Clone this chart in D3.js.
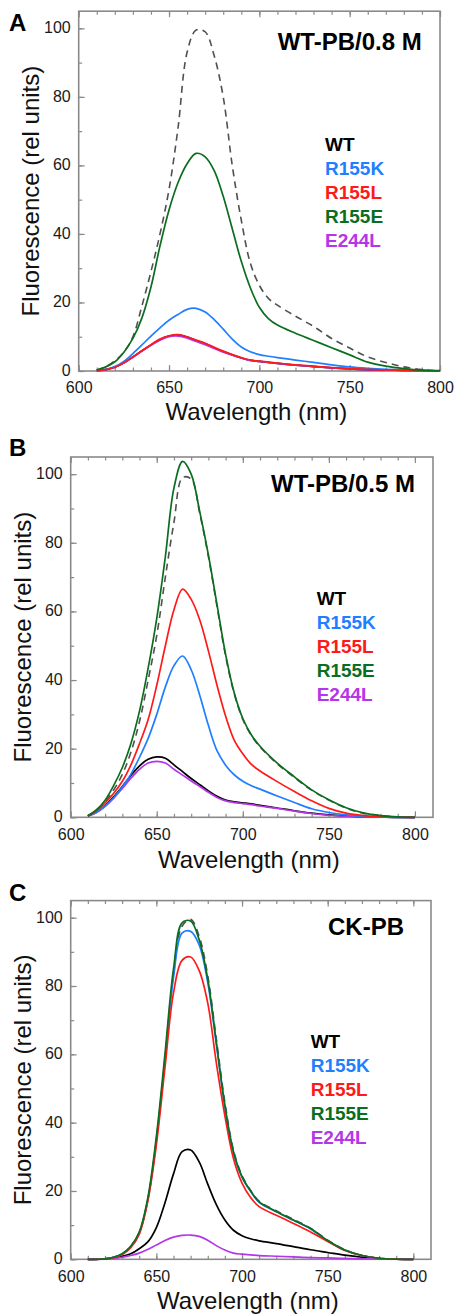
<!DOCTYPE html>
<html><head><meta charset="utf-8">
<script src="https://cdn.jsdelivr.net/npm/d3@7"></script>
<style>
html,body{margin:0;padding:0;background:#fff;}
svg{display:block;font-family:"Liberation Sans",Arial,Helvetica,sans-serif;}
</style></head>
<body>
<svg id="chart" width="456" height="1315"></svg>
<script>
// ---------- DATA ----------
const wavelengths = [610,615,620,625,630,635,640,645,650,655,660,665,670,675,680,685,690,695,700,705,710,720,730,740,750,760,770,780,790,800];
const seriesNames = ["WT","R155K","R155L","R155E","E244L"];
const xTickLabels = [600,650,700,750,800];
const yTickLabels = [0,20,40,60,80,100];
const panelLetters = ["A","B","C"];
const panelTitles = ["WT-PB/0.8 M","WT-PB/0.5 M","CK-PB"];

// Panel A
const aRef   = [0.3,1.2,3,5.5,10,19,29,40,53,71,93,99.5,99,92,80,60,44,31.5,25,21.2,19.2,16,13,9.5,6.7,4.1,2.5,1.2,0.4,0.1];
const aWT    = [0.1,0.4,1.1,2.4,4.1,5.9,7.6,9.2,10.2,10.5,9.9,8.9,8,6.8,5.7,4.7,3.8,3.1,2.8,2.5,2.2,1.7,1.3,0.9,0.6,0.4,0.3,0.2,0.1,0];
const aR155K = [0.1,0.5,1.3,2.8,5.1,7.6,10.2,12.6,14.8,16.5,18,18.3,17.2,15,12.2,9.3,7,5.6,4.8,4.3,3.9,3.2,2.5,1.8,1.2,0.8,0.5,0.3,0.1,0];
const aR155L = [0.1,0.4,1.1,2.4,4.1,5.9,7.7,9.3,10.3,10.6,10,9,8.1,6.9,5.8,4.8,3.9,3.2,2.9,2.6,2.3,1.8,1.4,1.0,0.7,0.5,0.3,0.2,0.1,0];
const aR155E = [0.3,1.2,2.7,5.5,9.5,15.5,24.5,36.5,47,55,60.5,63.5,62.5,58.5,51,41.5,32,24.3,18.6,15.3,13.4,11,8.9,6.8,4.7,2.6,1.4,0.7,0.25,0.1];
const aE244L = [0.1,0.4,1.1,2.3,4,5.8,7.5,9,10,10.2,9.6,8.6,7.7,6.6,5.5,4.6,3.8,3.1,2.8,2.5,2.2,1.7,1.3,0.9,0.6,0.4,0.3,0.2,0.1,0];

// Panel B
const bRef   = [0.4,2,4.5,8,12.5,19,28,40,53,70,86,99,98.6,88.5,76,61.5,47,36,28.5,23.8,20.5,15.6,11.6,7.9,5,2.7,1.2,0.5,0.1,0];
const bWT    = [0.4,1.5,3.4,6,9,12.2,15,16.9,17.6,17.2,15.3,13.3,11.3,9.5,7.7,6.1,5,4.5,4.2,3.9,3.5,2.7,1.9,1.2,0.7,0.4,0.2,0.1,0,0];
const bR155K = [0.4,1.5,3.3,5.7,8.8,12.6,17.5,23,30,38,44.2,47,43,35.5,26.8,19.4,15.2,12.4,10.5,9.2,8.2,6.2,4.3,2.5,1.4,0.7,0.3,0.1,0,0];
const bR155L = [0.4,1.9,4.2,7,10.5,15.3,21.5,28.5,38.5,50,60.5,66.5,63.5,57.5,48.5,38.5,29.5,22.5,18.5,15.4,13.5,10.4,7.5,4.8,2.6,1.2,0.5,0.2,0.05,0];
const bR155E = [0.4,2.2,5,9.3,14.5,21.5,31,43.5,58,76,96,103.7,100,89,76.5,62,47.5,36.3,28.8,24,20.7,15.8,11.8,8,5.1,2.8,1.3,0.5,0.1,0];
const bE244L = [0.4,1.4,3.2,5.6,8.4,11.4,14,15.8,16.3,15.8,14,12.3,10.6,9,7.3,5.8,4.8,4.3,4,3.7,3.3,2.6,1.8,1.1,0.6,0.3,0.15,0.05,0,0];

// Panel C
const cRef   = [0,0,0.1,0.6,1.6,3.7,7.8,17.5,35,58.5,83.5,97.5,99.5,94.5,83,64.5,46,32,24.5,20.2,17,14.2,11.7,9.1,5.6,2.8,1.1,0.3,0.05,0];
const cWT    = [0,0,0.1,0.4,0.9,1.6,3.1,5.1,9.3,16.5,25,31.5,32,28.5,22,16,11.5,8.5,6.9,6,5.4,4.6,3.7,2.8,2,1.2,0.6,0.2,0.05,0];
const cR155K = [0,0,0.1,0.55,1.5,3.6,7.7,17.3,34.8,58,82.5,95.5,96,92,81,63,44.7,31.3,24,19.9,16.7,13.9,11.4,8.9,5.4,2.7,1.1,0.3,0.05,0];
const cR155L = [0,0,0.1,0.5,1.4,3.4,7.3,17,33.5,56,78,87.5,88.5,84.5,75,57.5,42,29.5,22.3,18.1,15.4,12.9,10.5,8,5.2,2.6,1.1,0.3,0.05,0];
const cR155E = [0,0,0.1,0.6,1.6,3.8,8,18,36,60,85,98.5,99,93.5,82,63.5,45,31.5,24.2,20,16.8,14,11.5,9,5.5,2.7,1.1,0.3,0.05,0];
const cE244L = [0,0.05,0.1,0.25,0.6,1.1,1.8,2.9,4.2,5.5,6.5,7,7.1,6.7,5.6,4,2.7,1.8,1.5,1.3,1.1,0.9,0.7,0.5,0.4,0.25,0.15,0.1,0.05,0];

// ---------- STYLE / LAYOUT ----------
const colors = {WT:"#000000", R155K:"#1f7fff", R155L:"#ff1a1a", R155E:"#0b6e1f", E244L:"#b336e8"};
const drawOrder = ["WT","E244L","R155K","R155L","R155E"];

const panels = [
  {ref:aRef, s:{WT:aWT,R155K:aR155K,R155L:aR155L,R155E:aR155E,E244L:aE244L},
   left:78.7, right:440, top:11.2, bottom:371, xmax:800,
   letterY:31, titleX:421.7, titleY:50, legX:325, legY:151, ytX:38.5, xtOff:49},
  {ref:bRef, s:{WT:bWT,R155K:bR155K,R155L:bR155L,R155E:bR155E,E244L:bE244L},
   left:70.7, right:433, top:457, bottom:817.3, xmax:810.5,
   letterY:455.5, titleX:415, titleY:491.7, legX:316.7, legY:605, ytX:31, xtOff:50.5},
  {ref:cRef, s:{WT:cWT,R155K:cR155K,R155L:cR155L,R155E:cR155E,E244L:cE244L},
   left:70.7, right:431, top:900.6, bottom:1259.3, xmax:810.3,
   letterY:900.5, titleX:404, titleY:935, legX:310.7, legY:1048.3, ytX:31, xtOff:50}
];

const svg = d3.select("#chart");
const frameColor = "#8a8a8a";
const tickFont = 16;

panels.forEach((p, i) => {
  const x = d3.scaleLinear().domain([600, p.xmax]).range([p.left, p.right]);
  const y = d3.scaleLinear().domain([0, 105]).range([p.bottom, p.top]);
  const g = svg.append("g");

  const minorX = d3.range(600, 801, 10);
  const minorY = d3.range(0, 101, 10);
  const styleAxis = sel => {
    sel.select(".domain").remove();
    sel.selectAll(".tick line").attr("stroke", frameColor).attr("stroke-width", 1.2);
    sel.selectAll(".tick text").attr("fill", "#1a1a1a").style("font-size", tickFont + "px")
       .style("font-family", '"Liberation Sans",Arial,Helvetica,sans-serif');
  };
  g.append("g").attr("transform", `translate(0,${p.bottom})`)
    .call(d3.axisBottom(x).tickValues(minorX).tickSize(-3.5).tickFormat("")).call(styleAxis);
  g.append("g").attr("transform", `translate(0,${p.top})`)
    .call(d3.axisTop(x).tickValues(minorX).tickSize(-3.5).tickFormat("")).call(styleAxis);
  g.append("g").attr("transform", `translate(0,${p.top})`)
    .call(d3.axisTop(x).tickValues(xTickLabels).tickSize(-6).tickFormat("")).call(styleAxis);
  g.append("g").attr("transform", `translate(${p.left},0)`)
    .call(d3.axisLeft(y).tickValues(minorY).tickSize(-3.5).tickFormat("")).call(styleAxis);
  const xa = g.append("g").attr("transform", `translate(0,${p.bottom})`)
    .call(d3.axisBottom(x).tickValues(xTickLabels).tickSize(-6).tickPadding(11).tickFormat(d3.format("d"))).call(styleAxis);
  xa.selectAll(".tick text").attr("dy", "0.71em");
  const ya = g.append("g").attr("transform", `translate(${p.left},0)`)
    .call(d3.axisLeft(y).tickValues(yTickLabels).tickSize(-6).tickPadding(8).tickFormat(d3.format("d"))).call(styleAxis);
  ya.selectAll(".tick text").attr("dy", "0.28em");

  g.append("rect").attr("x", p.left).attr("y", p.top)
    .attr("width", p.right - p.left).attr("height", p.bottom - p.top)
    .attr("fill", "none").attr("stroke", frameColor).attr("stroke-width", 1.6);

  const line = d3.line().x((d, k) => x(wavelengths[k])).y(d => y(d)).curve(d3.curveCatmullRom.alpha(0.5));

  g.append("path").datum(p.ref).attr("d", line).attr("fill", "none")
    .attr("stroke", "#505050").attr("stroke-width", 1.6).attr("stroke-dasharray", "7,5");

  drawOrder.forEach(name => {
    g.append("path").datum(p.s[name]).attr("d", line).attr("fill", "none")
      .attr("stroke", colors[name]).attr("stroke-width", 1.7).attr("stroke-linejoin", "round");
  });

  g.append("text").attr("x", 9).attr("y", p.letterY).text(panelLetters[i])
    .style("font-size", "24px").style("font-weight", "bold").attr("fill", "#000");
  g.append("text").attr("x", p.titleX).attr("y", p.titleY).attr("text-anchor", "end")
    .text(panelTitles[i]).style("font-size", "24px").style("font-weight", "bold").attr("fill", "#000");
  seriesNames.forEach((n, k) => {
    g.append("text").attr("x", p.legX).attr("y", p.legY + k * 23.9).text(n)
      .style("font-size", "19px").style("font-weight", "bold").attr("fill", colors[n]);
  });
  g.append("text").attr("x", (p.left + p.right) / 2 - 3).attr("y", p.bottom + p.xtOff)
    .attr("text-anchor", "middle").text("Wavelength (nm)").style("font-size", "24px").attr("fill", "#111");
  g.append("text").attr("transform", `translate(${p.ytX},${(p.top + p.bottom) / 2}) rotate(-90)`)
    .attr("text-anchor", "middle").text("Fluorescence (rel units)").style("font-size", "24px").attr("fill", "#111");
});
</script>
</body></html>
